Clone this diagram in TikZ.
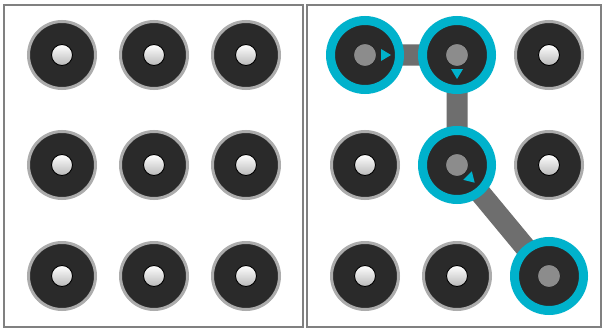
\documentclass[tikz,border=0pt]{standalone}
\usetikzlibrary{calc}
\definecolor{ringcyan}{RGB}{0,178,204}
\definecolor{padgray}{RGB}{42,42,42}
\definecolor{trailgray}{RGB}{110,110,110}
\begin{document}
\begin{tikzpicture}[x=1pt,y=-1pt,
  panel/.style={draw=gray, line width=2.2pt},
  pad/.style={circle, fill=padgray, draw=gray!65, line width=3pt,
    minimum size=67pt, inner sep=0pt},
  hit/.style={circle, fill=padgray, draw=ringcyan, line width=9pt,
    minimum size=69pt, inner sep=0pt},
  knob/.style={circle, inner sep=0pt, minimum size=21pt, draw=black,
    line width=0.9pt, top color=white, bottom color=gray!55},
  hitknob/.style={circle, inner sep=0pt, minimum size=23pt, draw=black!85,
    line width=0.9pt, fill=gray!90},
  trail/.style={draw=trailgray, line width=21pt},
  tip/.style={fill=ringcyan},
]
  \useasboundingbox (0,0) rectangle (604,329);
  \fill[white] (0,0) rectangle (604,329);

  % Panels
  \draw[panel] (4,5) rectangle (303,327);
  \draw[panel] (307,5) rectangle (601,327);

  % Left grid
  \foreach \c/\x in {1/62,2/154,3/246}
    \foreach \r/\y in {1/55,2/165,3/276} {
      \node[pad] (L\r\c) at (\x,\y) {};
      \node[knob] (Lk\r\c) at (L\r\c) {};
    }

  % Right grid
  \foreach \c/\x in {1/365,2/457,3/549}
    \foreach \r/\y in {1/55,2/165,3/276}
      \coordinate (R\r\c) at (\x,\y);

  \draw[trail] (R11) -- (R12) -- (R22) -- (R33);

  \foreach \p in {13,21,23,31,32} {
    \node[pad] (Rp\p) at (R\p) {};
    \node[knob] (Rk\p) at (R\p) {};
  }
  \foreach \p in {11,12,22,33} {
    \node[hit] (Rp\p) at (R\p) {};
    \node[hitknob] (Rk\p) at (R\p) {};
  }

  % Direction marks
  \fill[tip, shift={(R11)}] (16,-6) -- (26,0) -- (16,6) -- cycle;
  \fill[tip, shift={(R12)}, rotate=-90] (14,-6) -- (24,0) -- (14,6) -- cycle;
  \fill[tip, shift={(R22)}, rotate=-45] (15,-6) -- (25,0) -- (15,6) -- cycle;
\end{tikzpicture}
\end{document}
